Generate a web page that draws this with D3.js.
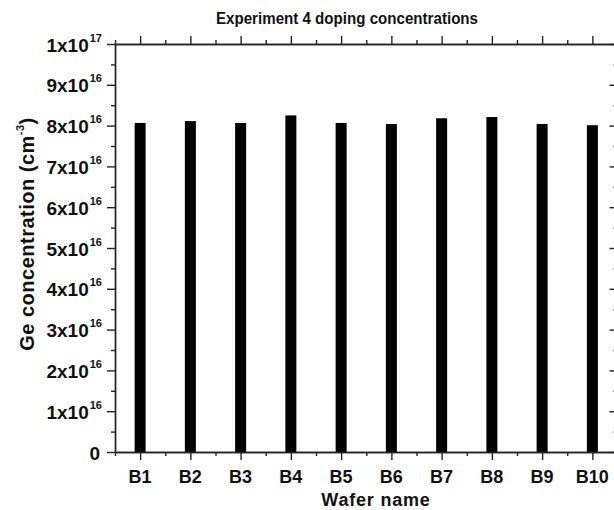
<!DOCTYPE HTML>
<html>
<head>
    <meta charset="utf-8">
    <title>Experiment 4 doping concentrations</title>
    <style>
        body { margin: 0; background: #fff; }
        svg text { font-family: "Liberation Sans", Arial, sans-serif; font-weight: bold; fill: #111; }
        .axis path, .axis line { stroke: #222; stroke-width: 1.4; }
    </style>
</head>
<body>
    <svg id="chart"></svg>

    <script src="https://cdn.jsdelivr.net/npm/d3@7/dist/d3.min.js"></script>
    <script type="text/javascript">
        // data (cm^-3)
        const wafers = ["B1", "B2", "B3", "B4", "B5", "B6", "B7", "B8", "B9", "B10"];
        const geConc = [8.065e16, 8.11e16, 8.065e16, 8.25e16, 8.065e16, 8.04e16, 8.18e16, 8.21e16, 8.04e16, 8.01e16];
        const yTickMantissa = [0, 1, 2, 3, 4, 5, 6, 7, 8, 9, 1];
        const yTickExponent = [null, 16, 16, 16, 16, 16, 16, 16, 16, 16, 17];

        const width = 614, height = 510;
        const plotLeft = 115, plotRight = 617.5, plotTop = 44, plotBottom = 452;

        const svg = d3.select("#chart")
            .attr("width", width)
            .attr("height", height);

        const x = d3.scaleLinear().domain([0.5, wafers.length + 0.5]).range([plotLeft, plotRight]);
        const y = d3.scaleLinear().domain([0, 1e17]).range([plotBottom, plotTop]);

        const xMajor = d3.range(1, wafers.length + 1);
        const xMinor = d3.range(0.5, wafers.length + 1, 1);
        const yMajor = yTickMantissa.map((m, i) => yTickExponent[i] == null ? 0 : m * Math.pow(10, yTickExponent[i]));
        const yMinor = d3.range(0, 10).map(i => (i + 0.5) * 1e16);

        /* bars */
        svg.append("g").selectAll("rect")
            .data(geConc)
            .enter()
            .append("rect")
            .attr("x", (d, i) => x(i + 1) - 5.5)
            .attr("width", 11)
            .attr("y", d => y(d))
            .attr("height", d => plotBottom - y(d))
            .attr("fill", "#000");

        /* axes: bottom & left outward, top & right inward */
        function addAxis(axis, tx, ty) {
            return svg.append("g")
                .attr("class", "axis")
                .attr("transform", "translate(" + tx + "," + ty + ")")
                .call(axis);
        }

        addAxis(d3.axisBottom(x).tickValues(xMajor).tickSize(8).tickSizeOuter(0).tickFormat(""), 0, plotBottom);
        addAxis(d3.axisBottom(x).tickValues(xMinor).tickSize(4).tickSizeOuter(0).tickFormat(""), 0, plotBottom);
        addAxis(d3.axisBottom(x).tickValues(xMajor).tickSize(-8).tickSizeOuter(0).tickFormat(""), 0, plotTop);
        addAxis(d3.axisBottom(x).tickValues(xMinor).tickSize(-4).tickSizeOuter(0).tickFormat(""), 0, plotTop);

        addAxis(d3.axisLeft(y).tickValues(yMajor).tickSize(8).tickSizeOuter(0).tickFormat(""), plotLeft, 0);
        addAxis(d3.axisLeft(y).tickValues(yMinor).tickSize(4).tickSizeOuter(0).tickFormat(""), plotLeft, 0);
        addAxis(d3.axisRight(y).tickValues(yMajor).tickSize(-8).tickSizeOuter(0).tickFormat(""), plotRight, 0);
        addAxis(d3.axisRight(y).tickValues(yMinor).tickSize(-4).tickSizeOuter(0).tickFormat(""), plotRight, 0);

        /* x tick labels */
        svg.append("g").selectAll("text")
            .data(wafers)
            .enter()
            .append("text")
            .attr("x", (d, i) => x(i + 1))
            .attr("y", plotBottom + 30.5)
            .attr("text-anchor", "middle")
            .attr("font-size", 18)
            .text(d => d);

        /* y tick labels with superscript exponent */
        const yLabels = svg.append("g").selectAll("text")
            .data(yMajor)
            .enter()
            .append("text")
            .attr("x", d => d === 0 ? 100 : 102)
            .attr("y", d => y(d) + 7.5)
            .attr("text-anchor", "end")
            .attr("font-size", 19);

        yLabels.each(function (d, i) {
            const t = d3.select(this);
            if (yTickExponent[i] == null) {
                t.text("0");
                return;
            }
            t.append("tspan").text(yTickMantissa[i] + "x10");
            t.append("tspan").attr("font-size", 11).attr("dx", 1).attr("dy", -10).text(yTickExponent[i]);
        });

        /* titles */
        svg.append("text")
            .attr("x", 347)
            .attr("y", 23.5)
            .attr("text-anchor", "middle")
            .attr("font-size", 16.5)
            .attr("textLength", 262)
            .attr("lengthAdjust", "spacingAndGlyphs")
            .text("Experiment 4 doping concentrations");

        svg.append("text")
            .attr("x", 376)
            .attr("y", 506)
            .attr("text-anchor", "middle")
            .attr("font-size", 18)
            .attr("letter-spacing", 0.8)
            .text("Wafer name");

        const yTitle = svg.append("text")
            .attr("transform", "translate(33.5,234) rotate(-90)")
            .attr("text-anchor", "middle")
            .attr("font-size", 20)
            .attr("letter-spacing", 0.5);
        yTitle.append("tspan").text("Ge concentration (cm");
        yTitle.append("tspan").attr("font-size", 11).attr("dy", -10).text("-3");
        yTitle.append("tspan").attr("dy", 10).text(")");
    </script>
</body>
</html>
